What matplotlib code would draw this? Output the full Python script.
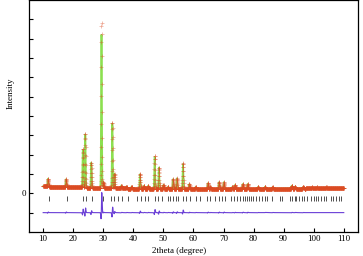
import numpy as np
import matplotlib.pyplot as plt

plt.rcParams['font.family'] = ['Liberation Serif', 'DejaVu Serif']

# peak positions (2theta) and heights above background
peak_pos = [11.6, 17.6, 23.2, 24.0, 26.0, 29.4, 30.0, 33.0, 33.7, 36.0, 37.7, 39.4,
            42.2, 43.5, 44.9, 47.1, 48.5, 50.0, 51.5, 53.2, 54.5, 56.5, 58.6, 60.7,
            64.8, 65.6, 68.5, 70.1, 72.9, 73.8, 76.4, 78.0, 81.5, 83.8, 86.3, 92.7,
            93.8, 96.5, 99.4, 101.0, 104.2]
calc_h = [0.40, 0.40, 1.95, 2.75, 1.30, 7.95, 0.30, 3.35, 0.75, 0.15, 0.10, 0.10,
          0.75, 0.15, 0.15, 1.65, 1.10, 0.20, 0.10, 0.50, 0.55, 1.30, 0.25, 0.10,
          0.30, 0.10, 0.35, 0.35, 0.10, 0.20, 0.25, 0.25, 0.10, 0.10, 0.08, 0.15,
          0.10, 0.08, 0.06, 0.06, 0.06]
obs_h = [0.40, 0.40, 2.00, 2.80, 1.30, 8.55, 0.30, 3.40, 0.75, 0.15, 0.10, 0.10,
         0.78, 0.15, 0.15, 1.70, 1.10, 0.20, 0.10, 0.50, 0.55, 1.35, 0.25, 0.10,
         0.30, 0.10, 0.35, 0.35, 0.10, 0.20, 0.25, 0.25, 0.10, 0.10, 0.08, 0.15,
         0.10, 0.08, 0.06, 0.06, 0.06]
obs_shift = 0.015
peak_width = 0.12

# background nodes
bg_x = [10, 20, 30, 40, 60, 80, 110]
bg_y = [0.36, 0.31, 0.27, 0.24, 0.22, 0.23, 0.26]

# Bragg reflection positions
bragg = [11.8, 17.8, 23.3, 24.3, 26.3, 29.3, 30.0, 32.6, 33.6, 35.0, 36.2, 38.2,
         41.2, 42.5, 43.9, 45.0, 47.2, 48.2, 49.5, 51.5, 52.2, 53.2, 54.2, 54.9,
         56.5, 57.5, 58.8, 60.8, 62.2, 64.5, 65.5, 67.0, 68.5, 69.5, 70.5, 72.4,
         73.6, 74.6, 75.4, 76.5, 77.3, 77.9, 78.4, 79.1, 79.9, 80.7, 81.8, 82.8,
         83.7, 84.3, 86.1, 88.7, 89.3, 92.0, 92.9, 93.7, 94.2, 95.0, 96.2, 96.8,
         97.7, 99.2, 100.1, 100.9, 101.4, 102.5, 103.4, 104.2, 105.8, 106.4,
         107.3, 108.4, 109.2]

x = np.arange(10, 110.01, 0.035)
bg = np.interp(x, bg_x, bg_y)
calc = bg.copy()
obs = bg.copy()
for p, hc, ho in zip(peak_pos, calc_h, obs_h):
    calc += hc * np.exp(-0.5 * ((x - p) / peak_width) ** 2)
    obs += ho * np.exp(-0.5 * ((x - p - obs_shift) / peak_width) ** 2)
diff = obs - calc - 1.0

fig = plt.figure(figsize=(3.63, 2.56), dpi=100)
ax = fig.add_axes([0.080, 0.094, 0.906, 0.906])

ax.plot(x, calc, color='#8ce050', lw=1.3, zorder=2)
ax.plot(x, obs, ls='none', marker='+', ms=2.2, mew=0.5, color='#dc4a22', alpha=0.5, zorder=3)
ax.vlines(bragg, -0.42, -0.16, color='#333333', lw=0.6)
ax.plot(x, diff, color='#6a3fd6', lw=0.8)

ax.set_xlim(5.3, 114.7)
ax.set_ylim(-2, 10)
ax.set_xticks(range(10, 111, 10))
ax.set_yticks(range(-1, 10))
ax.set_yticklabels(['' if t != 0 else '0' for t in range(-1, 10)])
ax.tick_params(direction='in', length=3, labelsize=6.5, width=0.8, pad=2)
ax.set_xlabel('2theta (degree)', fontsize=6.5)
ax.set_ylabel('Intensity', fontsize=6.5)
ax.xaxis.set_label_coords(0.456, -0.066)
ax.yaxis.set_label_coords(-0.045, 0.6)
for s in ax.spines.values():
    s.set_linewidth(0.9)

fig.savefig('out.png', dpi=100)
